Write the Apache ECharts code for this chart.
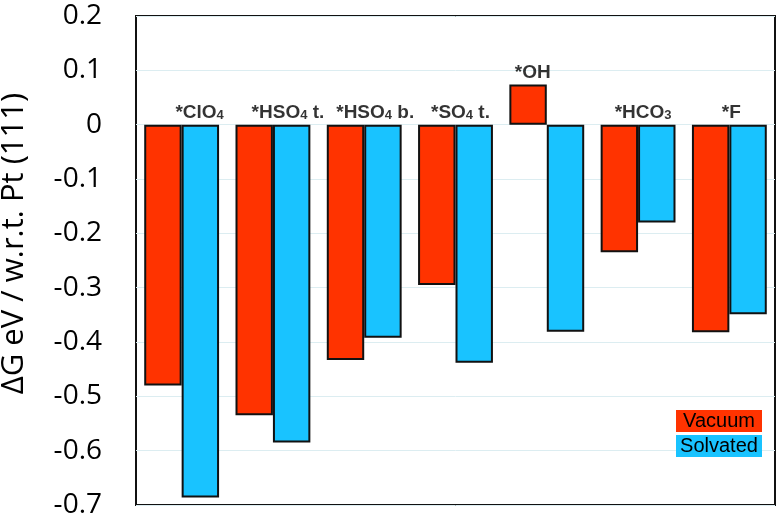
<!DOCTYPE html>
<html>
<head>
<meta charset="utf-8">
<script src="https://cdn.jsdelivr.net/npm/echarts@6/dist/echarts.min.js"></script>
<style>html,body{margin:0;padding:0;background:#fff}#c{width:779px;height:516px}</style>
</head>
<body>
<div id="c"></div>
<script>
// ---- data ----
var categories = ['*ClO4', '*HSO4 t.', '*HSO4 b.', '*SO4 t.', '*OH', '*HCO3', '*F'];
var vacuum   = [-0.48, -0.535, -0.433, -0.295, 0.074, -0.235, -0.382];
var solvated = [-0.686, -0.585, -0.392, -0.438, -0.381, -0.180, -0.349];
var seriesNames = ['Vacuum', 'Solvated'];
var yAxisTitle = 'ΔG eV / w.r.t. Pt (111)';
var yMin = -0.7, yMax = 0.2, yStep = 0.1;

// ---- style ----
var labelNudge = [18, 15, 11, 5, -14, 5, 2];
var cVac = '#ff3300', cSol = '#19c3ff';

function richName(s) {
  return s.replace(/([^0-9]+)|([0-9]+)/g, function (m, t, d) {
    return t ? '{b|' + t + '}' : '{s|' + d + '}';
  });
}

var labelData = categories.map(function (c, i) {
  return {
    value: [i, Math.max(0, vacuum[i], solvated[i])],
    label: { offset: [labelNudge[i], 0] }
  };
});

var legendBox = { fontFamily: 'Liberation Sans', fontSize: 20, color: '#000', width: 78, align: 'center', padding: [1, 4, 1, 4], lineHeight: 21 };

var chart = echarts.init(document.getElementById('c'));
chart.setOption({
  animation: false,
  grid: { left: 136, right: 4, top: 16, bottom: 11, show: true, borderColor: '#111', borderWidth: 2,
          backgroundColor: 'transparent', outerBoundsMode: 'none', containLabel: false },
  legend: {
    orient: 'vertical', right: 12, top: 405, itemWidth: 0, itemHeight: 0, itemGap: 3,
    icon: 'rect', selectedMode: false,
    data: seriesNames,
    formatter: function (n) { return '{' + (n === seriesNames[0] ? 'v' : 's') + '|' + n + '}'; },
    textStyle: {
      rich: {
        v: Object.assign({ backgroundColor: cVac }, legendBox),
        s: Object.assign({ backgroundColor: cSol }, legendBox)
      }
    }
  },
  xAxis: {
    type: 'category', data: categories,
    axisLine: { show: false }, axisTick: { show: false }, axisLabel: { show: false }, splitLine: { show: false }
  },
  yAxis: {
    type: 'value', min: yMin, max: yMax, interval: yStep,
    axisLine: { show: false }, axisTick: { show: false },
    axisLabel: { color: '#000', fontFamily: 'Open Sans', fontSize: 28, lineHeight: 16, margin: 34,
      formatter: function (v) { return String(Math.round(v * 10) / 10); } },
    splitLine: { lineStyle: { color: '#dcedf1', width: 1 } },
    name: yAxisTitle, nameLocation: 'middle', nameGap: 106, nameRotate: 90,
    nameTextStyle: { color: '#000', fontFamily: 'Open Sans', fontSize: 31, padding: [0, 0, 0, 34] }
  },
  series: [
    { name: seriesNames[0], type: 'bar', data: vacuum, barGap: '0%', barCategoryGap: '18%',
      itemStyle: { color: cVac, borderColor: '#111', borderWidth: 2 } },
    { name: seriesNames[1], type: 'bar', data: solvated,
      itemStyle: { color: cSol, borderColor: '#111', borderWidth: 2 } },
    { name: 'labels', type: 'scatter', data: labelData, symbol: 'circle', symbolSize: 1, silent: true, z: 5,
      itemStyle: { color: 'rgba(0,0,0,0)' },
      label: {
        show: true, position: 'top', distance: 2, color: '#000',
        formatter: function (p) { return richName(categories[p.dataIndex]); },
        rich: {
          b: { fontFamily: 'Liberation Sans', fontWeight: 'bold', fontSize: 19, color: '#000', lineHeight: 22, verticalAlign: 'bottom' },
          s: { fontFamily: 'Liberation Sans', fontWeight: 'bold', fontSize: 13, color: '#000', lineHeight: 22, verticalAlign: 'bottom' }
        }
      }
    }
  ]
});
</script>
</body>
</html>
